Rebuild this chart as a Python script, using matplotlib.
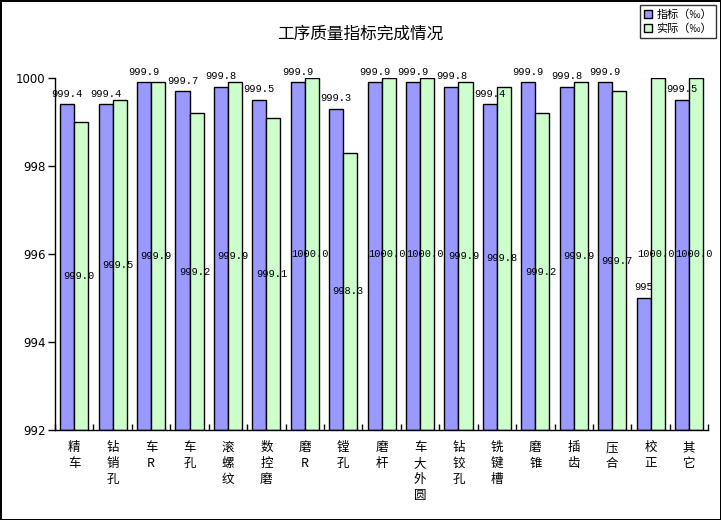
import numpy as np
import matplotlib
matplotlib.use("Agg")
from matplotlib import pyplot as plt

plt.rcParams['font.family'] = ['Noto Sans CJK SC', 'DejaVu Sans']

categories = ["精车", "钻销孔", "车R", "车孔", "滚螺纹", "数控磨", "磨R", "镗孔", "磨杆",
              "车大外圆", "钻铰孔", "铣键槽", "磨锥", "插齿", "压合", "校正", "其它"]
target = [999.4, 999.4, 999.9, 999.7, 999.8, 999.5, 999.9, 999.3, 999.9,
          999.9, 999.8, 999.4, 999.9, 999.8, 999.9, 995, 999.5]
actual = [999.0, 999.5, 999.9, 999.2, 999.9, 999.1, 1000.0, 998.3, 1000.0,
          1000.0, 999.9, 999.8, 999.2, 999.9, 999.7, 1000.0, 1000.0]
yticks = [992, 994, 996, 998, 1000]
series_names = ["指标（‰）", "实际（‰）"]
title = "工序质量指标完成情况"


def main():
    fig = plt.figure(figsize=(7.21, 5.2), dpi=100)
    fig.patch.set_edgecolor("black")
    fig.patch.set_linewidth(2)
    ax = fig.add_axes([0.0763, 0.173, 0.906, 0.677])

    x = np.arange(len(categories))
    w = 0.365
    b1 = ax.bar(x - w / 2, np.array(target) - 992, w, bottom=992,
                color="#9999FF", edgecolor="black", linewidth=1, label=series_names[0])
    b2 = ax.bar(x + w / 2, np.array(actual) - 992, w, bottom=992,
                color="#CCFFCC", edgecolor="black", linewidth=1, label=series_names[1])

    mono = "Liberation Mono"
    for xi, v in zip(x, target):
        ax.annotate(f"{v:g}", (xi - w / 2, v), xytext=(0, 4), textcoords="offset points",
                    ha="center", va="bottom", fontsize=7.5, family=mono, clip_on=False)
    for xi, v in zip(x, actual):
        ax.text(xi + w / 2 - 0.05, (v + 992) / 2, f"{v:.1f}", ha="center", va="center",
                fontsize=7.5, family=mono)

    ax.set_xlim(-0.5, len(categories) - 0.5)
    ax.set_ylim(992, 1000)
    ax.set_yticks(yticks)
    ax.set_yticklabels([str(t) for t in yticks], fontsize=8.5, family="DejaVu Sans")
    ax.tick_params(axis="y", direction="out", length=5, width=1, pad=2)

    ax.set_xticks(x)
    ax.set_xticklabels(["\n".join(c) for c in categories], fontsize=9, linespacing=1.3,
                       va="top")
    ax.tick_params(axis="x", which="major", length=0, pad=8)
    ax.set_xticks(np.arange(len(categories) + 1) - 0.5, minor=True)
    ax.tick_params(axis="x", which="minor", direction="in", length=4, width=1)

    for s in ["top", "right"]:
        ax.spines[s].set_visible(False)
    for s in ["left", "bottom"]:
        ax.spines[s].set_linewidth(1)
        ax.spines[s].set_color("black")

    fig.text(0.5, 0.935, title, ha="center", va="center", fontsize=12)

    leg = fig.legend(handles=[b1, b2], loc="upper right", bbox_to_anchor=(0.993, 0.99),
                     fontsize=8, frameon=True, fancybox=False, edgecolor="black",
                     handlelength=0.7, handleheight=0.7, handletextpad=0.4,
                     borderpad=0.35, labelspacing=0.35, borderaxespad=0)
    leg.get_frame().set_linewidth(1)

    fig.savefig("out.png", dpi=100)


if __name__ == "__main__":
    main()
